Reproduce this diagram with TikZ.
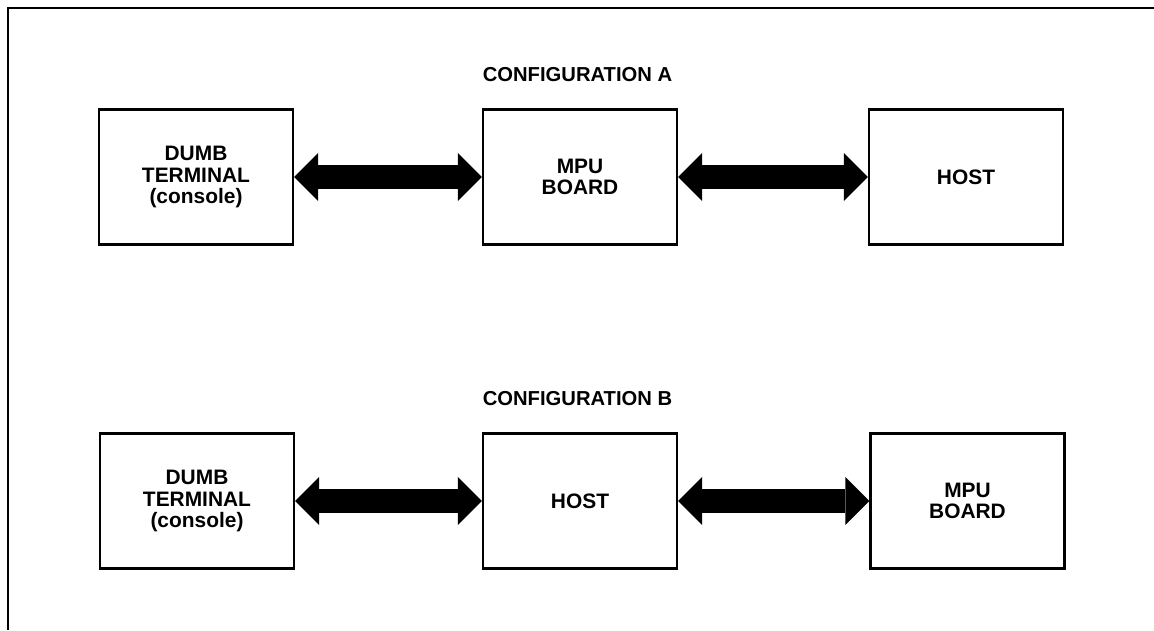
\documentclass[tikz,border=0pt]{standalone}
\usepackage{fontspec}
\setmainfont{Liberation Sans}
\usetikzlibrary{arrows.meta}
\tikzset{
	box/.style={draw, line width=1.4pt, minimum width=3.88cm, minimum height=2.7cm, align=center, font=\fontsize{11.9}{12.3}\selectfont\bfseries},
	bustip/.tip={Triangle[length=0.48cm, width=0.96cm, line width=0pt]},
	bus/.style={line width=0.48cm, bustip-bustip},
	title/.style={font=\fontsize{11.5}{12}\selectfont\bfseries}
}
\begin{document}
\begin{tikzpicture}[>=stealth, scale=1]
				\useasboundingbox (0,0) rectangle (23.08,12.6);
				% frame
				\draw[line width=1.7pt] (0.16,0) -- (0.16,12.44) -- (23.2,12.44);
				% configuration A
				\node[title] (titleA) at (11.55, 11.1) {CONFIGURATION A};
				\node[box] (termA) at (3.92, 9.06) {DUMB\\TERMINAL\\(console)};
				\node[box] (mpuA) at (11.6, 9.06) {MPU\\BOARD};
				\node[box] (hostA) at (19.32, 9.06) {HOST};
				\draw[bus] (termA.east) -- (mpuA.west);
				\draw[bus] (mpuA.east) -- (hostA.west);
				% configuration B
				\node[title] (titleB) at (11.55, 4.62) {CONFIGURATION B};
				\node[box] (termB) at (3.94, 2.58) {DUMB\\TERMINAL\\(console)};
				\node[box] (hostB) at (11.6, 2.58) {HOST};
				\node[box] (mpuB) at (19.35, 2.58) {MPU\\BOARD};
				\draw[bus] (termB.east) -- (hostB.west);
				\draw[bus] (hostB.east) -- (mpuB.west);
			\end{tikzpicture}
\end{document}
